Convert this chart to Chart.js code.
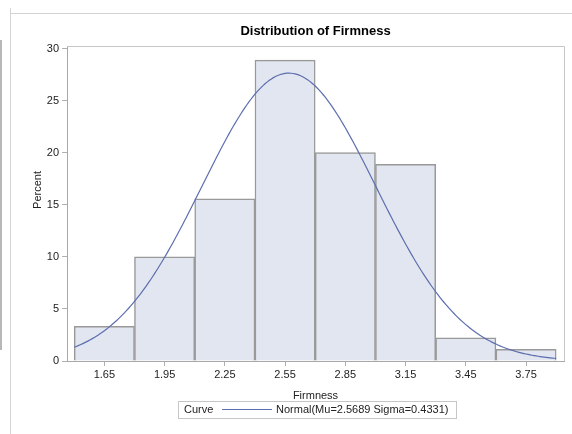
<!DOCTYPE html>
<html>
<head>
<meta charset="utf-8">
<title>Distribution of Firmness</title>
<script src="https://cdn.jsdelivr.net/npm/chart.js@4.4.1/dist/chart.umd.min.js"></script>
<style>
  body { margin: 0; background: #fff; }
  canvas { display: block; }
</style>
</head>
<body>
<canvas id="hist" width="572" height="434"></canvas>
<script>
// histogram bins (midpoints) and percent of observations in each
const binMids = [1.65, 1.95, 2.25, 2.55, 2.85, 3.15, 3.45, 3.75];
const binPercents = [3.33, 10.0, 15.56, 28.89, 20.0, 18.89, 2.22, 1.11];
const binWidth = 0.3;

// tick labels
const xTicks = [1.65, 1.95, 2.25, 2.55, 2.85, 3.15, 3.45, 3.75];
const yTicks = [0, 5, 10, 15, 20, 25, 30];

// fitted normal
const mu = 2.5689;
const sigma = 0.4331;
const curveFrom = 1.50;
const curveTo = 3.90;

// normal density scaled to percent per bin
const curvePts = [];
for (let x = curveFrom; x <= curveTo + 1e-9; x += 0.01) {
    const z = (x - mu) / sigma;
    const y = 100 * binWidth * Math.exp(-0.5 * z * z) / (sigma * Math.sqrt(2 * Math.PI));
    curvePts.push({ x: x, y: y });
}

const FONT = '"Liberation Sans", Arial, sans-serif';
const CURVE_COLOR = '#5d6eae';

// frame, box, titles and the legend box
const decor = {
    id: 'decor',
    beforeDraw(chart) {
        const ctx = chart.ctx;
        ctx.save();
        ctx.fillStyle = '#fff';
        ctx.fillRect(0, 0, chart.width, chart.height);
        ctx.strokeStyle = '#d4d4d4';
        ctx.lineWidth = 1;
        ctx.beginPath();
        ctx.moveTo(10.5, 8);
        ctx.lineTo(10.5, 434);
        ctx.moveTo(10, 13.5);
        ctx.lineTo(572, 13.5);
        ctx.stroke();
        ctx.fillStyle = '#b8b8b8';
        ctx.fillRect(0, 40, 2, 310);
        ctx.restore();
    },
    afterDraw(chart) {
        const ctx = chart.ctx;
        const a = chart.chartArea;
        ctx.save();
        ctx.strokeStyle = '#c6c6c6';
        ctx.lineWidth = 1;
        ctx.beginPath();
        ctx.moveTo(a.left, a.top + 0.5);
        ctx.lineTo(a.right + 0.5, a.top + 0.5);
        ctx.lineTo(a.right + 0.5, a.bottom);
        ctx.stroke();

        const cx = (a.left + a.right) / 2;
        ctx.fillStyle = '#000';
        ctx.textAlign = 'center';
        ctx.textBaseline = 'middle';
        ctx.font = 'bold 13px ' + FONT;
        ctx.fillText('Distribution of Firmness', cx, 31);

        ctx.fillStyle = '#222';
        ctx.font = '11px ' + FONT;
        ctx.fillText('Firmness', cx, 396);

        ctx.save();
        ctx.translate(38, 190);
        ctx.rotate(-Math.PI / 2);
        ctx.fillText('Percent', 0, 0);
        ctx.restore();

        // legend
        ctx.strokeStyle = '#c6c6c6';
        ctx.strokeRect(178.5, 401.5, 278, 17);
        ctx.textAlign = 'left';
        ctx.fillText('Curve', 184, 410);
        ctx.strokeStyle = CURVE_COLOR;
        ctx.beginPath();
        ctx.moveTo(222, 409.5);
        ctx.lineTo(272, 409.5);
        ctx.stroke();
        ctx.fillText('Normal(Mu=' + mu.toFixed(4) + ' Sigma=' + sigma.toFixed(4) + ')', 276, 410);
        ctx.restore();
    }
};

new Chart(document.getElementById('hist'), {
    data: {
        datasets: [
            {
                type: 'line',
                data: curvePts,
                borderColor: CURVE_COLOR,
                borderWidth: 1.2,
                pointRadius: 0,
                tension: 0,
                order: 0
            },
            {
                type: 'bar',
                data: binMids.map((m, i) => ({ x: m, y: binPercents[i] })),
                backgroundColor: '#e2e6f0',
                borderColor: '#999999',
                borderWidth: 1.5,
                barPercentage: 1,
                categoryPercentage: 1,
                order: 1
            }
        ]
    },
    plugins: [decor],
    options: {
        responsive: false,
        animation: false,
        layout: { padding: { left: 0, right: 8, top: 46, bottom: 0 } },
        plugins: {
            legend: { display: false },
            title: { display: false },
            tooltip: { enabled: false }
        },
        scales: {
            x: {
                type: 'linear',
                offset: false,
                min: 1.464,
                max: 3.939,
                afterBuildTicks: s => { s.ticks = xTicks.map(v => ({ value: v })); },
                afterFit: s => { s.height = 73; },
                grid: { offset: false, drawOnChartArea: false, drawTicks: true, tickLength: 5, color: '#b0b0b0' },
                border: { color: '#a8a8a8' },
                ticks: {
                    maxRotation: 0,
                    padding: 2,
                    color: '#222',
                    font: { family: FONT, size: 11 },
                    callback: v => v.toFixed(2)
                }
            },
            y: {
                type: 'linear',
                min: 0,
                max: 30.24,
                afterBuildTicks: s => { s.ticks = yTicks.map(v => ({ value: v })); },
                afterFit: s => { s.width = 67; },
                grid: { drawOnChartArea: false, drawTicks: true, tickLength: 5, color: '#b0b0b0' },
                border: { color: '#a8a8a8' },
                ticks: {
                    padding: 3,
                    color: '#222',
                    font: { family: FONT, size: 11 }
                }
            }
        }
    }
});
</script>
</body>
</html>
